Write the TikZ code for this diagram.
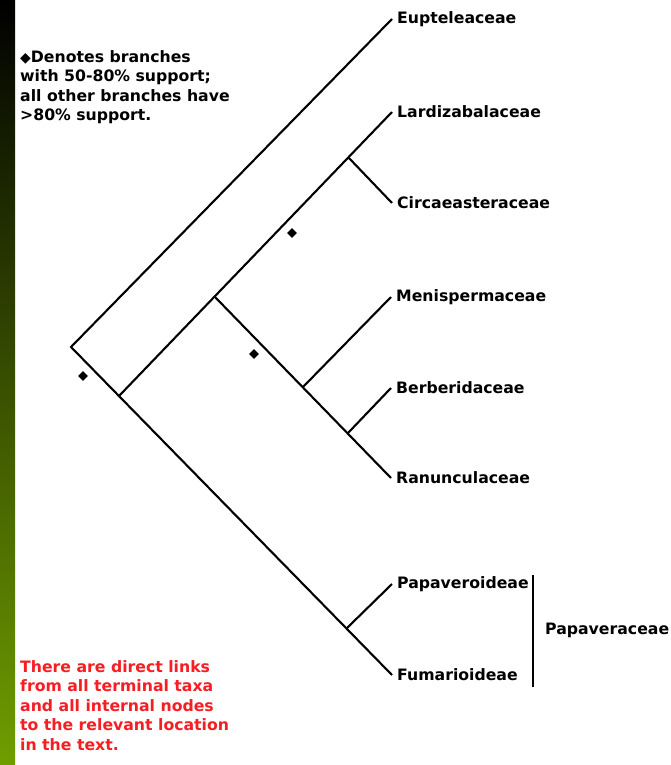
\documentclass[tikz,border=0pt]{standalone}
\usepackage{fontspec}
\setmainfont{DejaVu Sans}
\usepackage{tikz}
\usetikzlibrary{shapes.geometric}
\usepackage{xcolor}
\definecolor{stripgreen}{RGB}{112,158,0}
\definecolor{linkred}{RGB}{245,30,35}

\begin{document}
\begin{tikzpicture}[x=1pt,y=-1pt,
  branch/.style={line width=2.1pt},
  taxon/.style={anchor=west,inner sep=0pt,font=\bfseries\fontsize{15.7}{19.5}\selectfont},
  note/.style={anchor=north west,inner sep=0pt,align=left,font=\bfseries\fontsize{15.7}{19.5}\selectfont},
  weak/.style={diamond,fill=black,inner sep=0pt,minimum size=10pt}]
\useasboundingbox (0,0) rectangle (670,765);
\fill[white] (0,0) rectangle (670,765);
\fill[top color=black,bottom color=stripgreen] (0,0) rectangle (15,765);

\coordinate (root) at (71,347);
\coordinate (n1) at (119,396);
\coordinate (n2) at (215,297);
\coordinate (n3) at (348,157);
\coordinate (n4) at (303,387);
\coordinate (n5) at (348,433);
\coordinate (n6) at (347,628);

\coordinate (eup) at (392,19);
\coordinate (lar) at (392,112);
\coordinate (cir) at (392,203);
\coordinate (men) at (391,297);
\coordinate (ber) at (391,388);
\coordinate (ran) at (391,478);
\coordinate (pap) at (392,584);
\coordinate (fum) at (392,675);

\draw[branch] (eup)--(root)--(fum);
\draw[branch] (n1)--(lar);
\draw[branch] (n2)--(ran);
\draw[branch] (n3)--(cir);
\draw[branch] (n4)--(men);
\draw[branch] (n5)--(ber);
\draw[branch] (n6)--(pap);

\node[weak] (w1) at (83,376) {};
\node[weak] (w2) at (292,233) {};
\node[weak] (w3) at (254,354) {};

\node[taxon] (eupl) at ([xshift=5pt]eup) {Eupteleaceae};
\node[taxon] (larl) at ([xshift=5pt]lar) {Lardizabalaceae};
\node[taxon] (cirl) at ([xshift=5pt]cir) {Circaeasteraceae};
\node[taxon] (menl) at ([xshift=5pt]men) {Menispermaceae};
\node[taxon] (berl) at ([xshift=5pt]ber) {Berberidaceae};
\node[taxon] (ranl) at ([xshift=5pt]ran) {Ranunculaceae};
\node[taxon] (papl) at ([xshift=5pt]pap) {Papaveroideae};
\node[taxon] (fuml) at ([xshift=5pt]fum) {Fumarioideae};

\coordinate (bt) at (533,575);
\coordinate (bb) at (533,687);
\draw[branch] (bt)--(bb);
\node[taxon] (fam) at (545,630) {Papaveraceae};

\node[note] (key) at (20,50) {{\fontsize{14}{14}\selectfont ◆}Denotes branches\\with 50-80\% support;\\all other branches have\\>80\% support.};
\node[note,text=linkred] (links) at (20,660) {There are direct links\\from all terminal taxa\\and all internal nodes\\to the relevant location\\in the text.};

\end{tikzpicture}
\end{document}
